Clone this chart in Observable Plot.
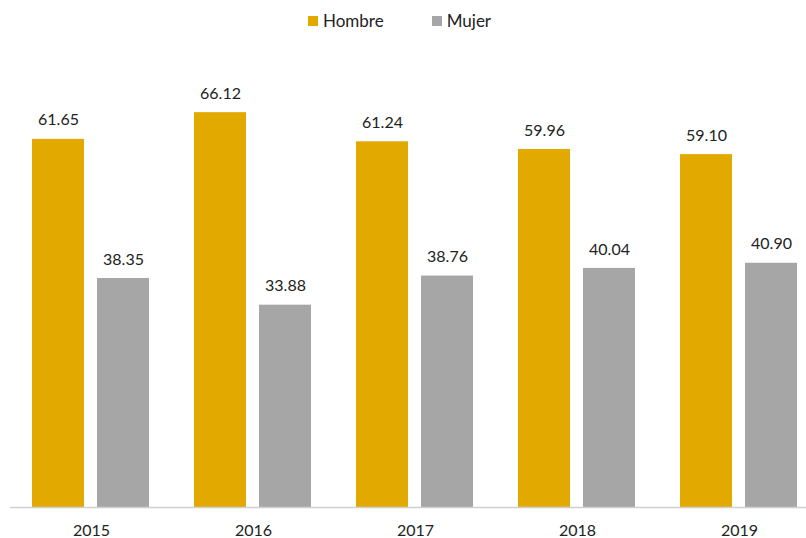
<!DOCTYPE html>
<html><head><meta charset="utf-8">
<script src="https://cdn.jsdelivr.net/npm/d3@7"></script>
<script src="https://cdn.jsdelivr.net/npm/@observablehq/plot@0.6"></script>
<style>
body{margin:0;background:#fff;font-family:Lato,"Open Sans",sans-serif;}
#legend{height:40px;display:flex;justify-content:flex-start;align-items:center;gap:48px;font-size:17px;color:#222;padding-left:308px;}
#legend span.sw{display:inline-block;width:10px;height:10px;margin-right:5px;vertical-align:middle;position:relative;top:-1px}
</style></head>
<body>
<div id="legend"></div>
<div id="chart"></div>
<script>
const years = ["2015","2016","2017","2018","2019"];
const series = ["Hombre","Mujer"];
const hombre = [61.65, 66.12, 61.24, 59.96, 59.10];
const mujer = [38.35, 33.88, 38.76, 40.04, 40.90];
const colors = ["#E2AA00", "#A6A6A6"];

const data = [];
years.forEach((y,i)=>{
  data.push({year:y, sex:"Hombre", value:hombre[i]});
  data.push({year:y, sex:"Mujer", value:mujer[i]});
});

const leg = document.getElementById("legend");
series.forEach((s,i)=>{
  const d = document.createElement("div");
  d.innerHTML = `<span class="sw" style="background:${colors[i]}"></span>${s}`;
  leg.appendChild(d);
});

const chart = Plot.plot({
  width: 806,
  height: 498,
  marginTop: 49,
  marginBottom: 31,
  marginLeft: 0,
  marginRight: 0,
  style: {fontFamily: "Lato, 'Open Sans', sans-serif", fontSize: "16px", color: "#222", background: "#fff"},
  fx: {domain: years, range: [9.5, 819.5], padding: 0, label: null, axis: null},
  x: {domain: series, paddingInner: 0.197, paddingOuter: 0.326, axis: null},
  y: {domain: [0, 70], axis: null},
  color: {domain: series, range: colors},
  marks: [
    Plot.barY(data, {fx: "year", x: "sex", y: "value", fill: "sex"}),
    Plot.text(data, {fx: "year", x: "sex", y: "value", text: d => d.value.toFixed(2), dy: -19, fontSize: 16, fill: "#222"}),
    Plot.ruleY([0], {stroke: "#d0d0d0", strokeWidth: 1.5}),
    Plot.axisFx({anchor: "bottom", domain: years, tickSize: 0, tickPadding: 17, fontSize: 16, fontWeight: 400, fill: "#222", label: null})
  ]
});
document.getElementById("chart").appendChild(chart);
</script>
</body></html>
